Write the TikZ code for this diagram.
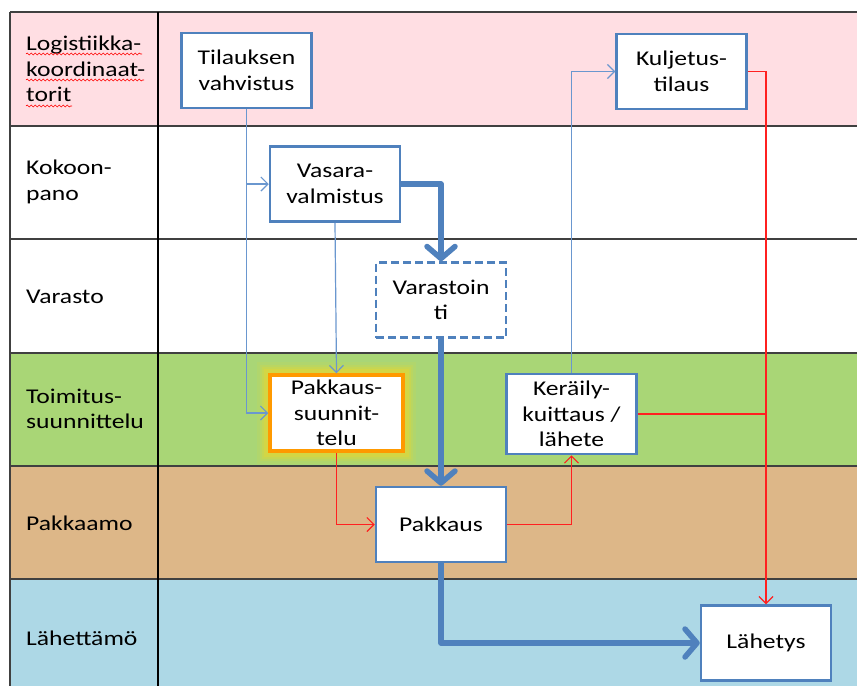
\documentclass[tikz,border=0pt]{standalone}
\usepackage{fontspec}
\setmainfont{Carlito}[FakeStretch=1.22]
\usetikzlibrary{arrows.meta,decorations.pathmorphing}

\definecolor{laneA}{HTML}{FFDEE3}
\definecolor{laneD}{HTML}{A9D676}
\definecolor{laneE}{HTML}{DDB788}
\definecolor{laneF}{HTML}{ADD8E6}
\definecolor{boxblue}{HTML}{4F81BD}
\definecolor{thinblue}{HTML}{6A97CF}
\definecolor{flowred}{HTML}{FF2020}
\definecolor{hiorange}{HTML}{FF9900}
\definecolor{glowyellow}{HTML}{E8D830}
\definecolor{gridline}{HTML}{404040}

\newcommand\boxfont{\fontsize{21}{25.6}\selectfont}

\pgfdeclarelayer{lanes}
\pgfdeclarelayer{glow}
\pgfsetlayers{lanes,glow,main}

\tikzset{
  proc/.style={draw=boxblue, line width=2.5pt, fill=white, text=black,
    minimum width=130pt, minimum height=75pt, align=center, inner sep=1pt,
    font=\boxfont},
  lanelabel/.style={anchor=west, align=left, inner sep=0pt, font=\boxfont},
  thinflow/.style={draw=thinblue, line width=1.2pt,
    -{Straight Barb[length=7pt,width=14pt]}},
  mainflow/.style={draw=boxblue, line width=5.5pt, line join=round,
    -{Straight Barb[round,length=12pt,width=28pt]}},
  redflow/.style={draw=flowred, line width=1.2pt},
  redarrow/.style={redflow, -{Straight Barb[length=7pt,width=14pt]}},
  gridrule/.style={draw=gridline, line width=1.6pt},
  squiggle/.style={draw=red, line width=0.6pt,
    decorate, decoration={snake, amplitude=1pt, segment length=4pt}},
}

\begin{document}
\begin{tikzpicture}[x=1pt,y=-1pt]
\useasboundingbox (0,0) rectangle (857,686);

% swim lanes
\begin{pgfonlayer}{lanes}
\fill[laneA] (10,12) rectangle (857,126);
\fill[white] (10,126) rectangle (857,353);
\fill[laneD] (10,353) rectangle (857,466);
\fill[laneE] (10,466) rectangle (857,579);
\fill[laneF] (10,579) rectangle (857,686);

\foreach \y in {12,126,239,353,466,579}
  \draw[gridrule] (10,\y) -- (857,\y);
\draw[gridrule] (10,12) -- (10,686);
\draw[draw=black, line width=1.3pt] (158,12) -- (158,686);
\end{pgfonlayer}

% lane titles
\node[lanelabel] (l1) at (26,69) {Logistiikka-\\koordinaat-\\torit};
\node[lanelabel] (l2) at (26,182) {Kokoon-\\pano};
\node[lanelabel] (l3) at (26,297) {Varasto};
\node[lanelabel] (l4) at (26,409) {Toimitus-\\suunnittelu};
\node[lanelabel] (l5) at (26,523) {Pakkaamo};
\node[lanelabel] (l6) at (26,638) {Lähettämö};

% spell-check marks under the first title
\draw[squiggle] (26,54) -- (142,54);
\draw[squiggle] (26,80) -- (144,80);
\draw[squiggle] (26,106) -- (72,106);

% process steps
\node[proc] (tv) at (246.5,70.5) {Tilauksen\\vahvistus};
\node[proc] (kt) at (681.5,71.5) {Kuljetus-\\tilaus};
\node[proc] (vm) at (335,184) {Vasara-\\valmistus};
\node[proc, dash pattern=on 8pt off 4pt] (vs) at (441,300) {Varastoin\\ti};
\node[proc, draw=hiorange, line width=3.5pt, minimum width=133pt, minimum height=76pt] (ps) at (336.5,413) {Pakkaus-\\suunnit-\\telu};
\node[proc, minimum height=80pt] (kk) at (571.5,414) {Keräily-\\kuittaus /\\lähete};
\node[proc] (pk) at (441,524.5) {Pakkaus};
\node[proc] (lh) at (766,643) {Lähetys};

% soft highlight round the packing design step
\begin{pgfonlayer}{glow}
  \foreach \w/\o in {20/0.12, 15/0.18, 10/0.28, 6/0.4}
    \draw[glowyellow, line width=\w pt, opacity=\o]
      ([shift={(-1,1)}]ps.south west) rectangle ([shift={(1,-1)}]ps.north east);
\end{pgfonlayer}

% information flow
\draw[thinflow] (tv.south) |- (ps.west);
\draw[thinflow] (tv.south |- vm.west) -- (vm.west);
\draw[thinflow] (vm.south) -- (ps.north);
\draw[thinflow] (kk.north) |- (kt.west);

% material flow
\draw[mainflow] (vm.east) -| (vs.north);
\draw[mainflow] (vs.south) -- (pk.north);
\draw[mainflow] (pk.south) |- (lh.west);

% documents and confirmations
\draw[redarrow] (kt.east) -| (lh.north);
\draw[redflow] (kk.east) -- (kk.east -| lh.north);
\draw[redarrow] (ps.south) |- (pk.west);
\draw[redarrow] (pk.east) -| (kk.south);
\end{tikzpicture}
\end{document}
